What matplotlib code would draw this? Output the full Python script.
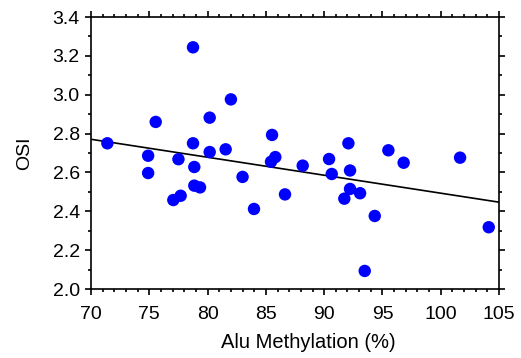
import numpy as np
import matplotlib
matplotlib.use("Agg")
import matplotlib.pyplot as plt
from matplotlib.ticker import MultipleLocator, FormatStrFormatter

alu_methylation = [71.4, 74.9, 74.9, 75.55, 77.5, 78.75, 78.75, 78.86, 80.18, 80.18,
                   81.55, 82.0, 83.0, 85.53, 85.44, 85.81, 88.16, 90.42, 90.65, 92.08,
                   92.22, 95.51, 96.82, 101.66, 77.06, 77.69, 78.86, 79.35, 83.98, 86.64,
                   91.73, 92.22, 93.08, 94.34, 93.48, 104.12]
osi = [2.75, 2.686, 2.597, 2.86, 2.668, 3.244, 2.75, 2.628, 2.882, 2.705,
       2.719, 2.976, 2.577, 2.793, 2.655, 2.679, 2.635, 2.669, 2.592, 2.75,
       2.61, 2.714, 2.65, 2.676, 2.458, 2.48, 2.532, 2.523, 2.412, 2.487,
       2.465, 2.515, 2.493, 2.376, 2.093, 2.318]

plt.rcParams['font.family'] = ['Liberation Sans', 'DejaVu Sans']

fig = plt.figure(figsize=(5.21, 3.58), dpi=100)
ax = fig.add_axes([0.1747, 0.1927, 0.9578 - 0.1747, 0.9525 - 0.1927])

ax.scatter(alu_methylation, osi, s=80, color='#0000ff', edgecolors='none', zorder=3)

slope, intercept = np.polyfit(alu_methylation, osi, 1)
xl = np.array([70, 105])
ax.plot(xl, intercept + slope * xl, color='black', lw=1.2, zorder=2)

ax.set_xlim(70, 105)
ax.set_ylim(2.0, 3.4)
ax.xaxis.set_major_locator(MultipleLocator(5))
ax.xaxis.set_minor_locator(MultipleLocator(1))
ax.yaxis.set_major_locator(MultipleLocator(0.2))
ax.yaxis.set_minor_locator(MultipleLocator(0.1))
ax.yaxis.set_major_formatter(FormatStrFormatter('%.1f'))

ax.tick_params(which='both', direction='out', top=True, right=True,
               labeltop=False, labelright=False, width=1.2, labelsize=14, colors='black')
ax.tick_params(which='major', length=4.5)
ax.tick_params(which='minor', length=2.3)
ax.tick_params(axis='x', which='major', pad=8)
ax.tick_params(axis='y', which='major', pad=3.6)
for sp in ax.spines.values():
    sp.set_linewidth(1.2)

ax.set_xlabel('Alu Methylation (%)', fontsize=14.5, labelpad=7)
ax.xaxis.label.set_x(0.532)
ax.set_ylabel('OSI', fontsize=14, labelpad=14)

fig.savefig('out.png', dpi=100)
